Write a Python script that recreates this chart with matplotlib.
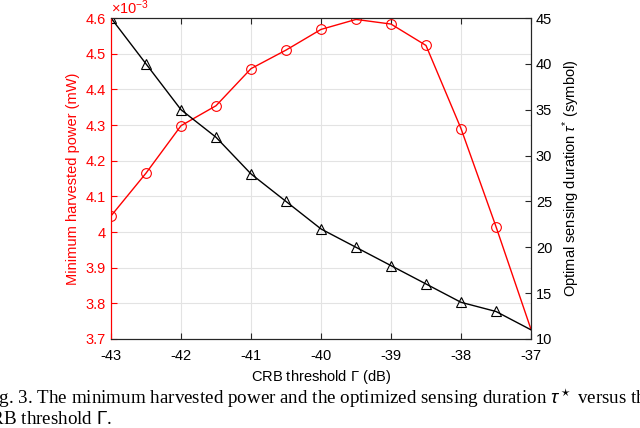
import numpy as np
import matplotlib.pyplot as plt

plt.rcParams['font.family'] = ['Liberation Sans', 'DejaVu Sans']
plt.rcParams['axes.unicode_minus'] = False
plt.rcParams['mathtext.fontset'] = 'custom'
plt.rcParams['mathtext.rm'] = 'Liberation Sans'
plt.rcParams['mathtext.it'] = 'Liberation Sans:italic'

# CRB threshold (dB)
crb_db = [-43, -42.5, -42, -41.5, -41, -40.5, -40, -39.5, -39, -38.5, -38, -37.5, -37]
# minimum harvested power, units of 1e-3 mW
power = [4.045, 4.165, 4.298, 4.354, 4.458, 4.510, 4.568, 4.596, 4.583, 4.523, 4.290, 4.015, 3.727]
# optimal sensing duration (symbols)
tau = [45, 40, 35, 32, 28, 25, 22, 20, 18, 16, 14, 13, 11]

red = '#ff0000'
dark = '#262626'

fig = plt.figure(figsize=(6.4, 4.28), dpi=100)
ax = fig.add_axes([111/640, 1-339/428, 420/640, 321/428])
ax2 = ax.twinx()

# the last point's marker is hidden by the axes edge in the source
marks = list(range(len(crb_db) - 1))
ax.plot(crb_db, power, color=red, lw=1.0, marker='o', ms=7, mfc='none', mec=red, mew=0.8,
        markevery=marks)
ax2.plot(crb_db, tau, color='black', lw=1.0, marker='^', ms=7, mfc='none', mec='black', mew=0.8,
         markevery=marks)

ax.set_xlim(-43, -37)
ax.set_xticks(np.arange(-43, -36, 1))
ax.set_ylim(3.7, 4.6)
ax.set_yticks(np.arange(3.7, 4.61, 0.1))
ax.set_yticklabels(['%g' % round(v, 1) for v in np.arange(3.7, 4.61, 0.1)])
ax2.set_ylim(10, 45)
ax2.set_yticks(np.arange(10, 46, 5))

ax.grid(True, color='#e3e3e3', lw=0.8)
ax.set_axisbelow(True)

for a in (ax, ax2):
    a.tick_params(direction='in', length=4, width=0.8, labelsize=10.5)
    for s in a.spines.values():
        s.set_color(dark)
        s.set_linewidth(0.8)
ax.tick_params(axis='x', top=True, colors=dark, labelcolor='black', pad=7)
ax.tick_params(axis='y', colors=red, labelcolor=red)
ax2.tick_params(axis='y', colors=dark, labelcolor='black')
ax.spines['left'].set_color(red)
ax2.spines['left'].set_color(red)

ax.set_xlabel(r'CRB threshold $\Gamma$ (dB)', fontsize=10.5, labelpad=4)
ax.set_ylabel('Minimum harvested power (mW)', fontsize=10.5, color=red, labelpad=4)
ax2.set_ylabel(r'Optimal sensing duration $\tau^{*}$ (symbol)', fontsize=10.5, labelpad=6)
ax.text(0.0, 1.003, r'$\times10^{-3}$', transform=ax.transAxes, color=red,
        fontsize=10.5, ha='left', va='bottom')

# caption (cropped at the figure edges as in the source)
cap = dict(family=['Liberation Serif', 'DejaVu Serif'], fontsize=13.7, va='center', ha='left')
fig.text(-17/640, 1-398/428,
         r'Fig. 3. The minimum harvested power and the optimized sensing duration $\tau^\star$ versus the',
         **cap)
fig.text(-22/640, 1-420/428, r'CRB threshold $\Gamma$.', **cap)

fig.savefig('out.png', dpi=100)
